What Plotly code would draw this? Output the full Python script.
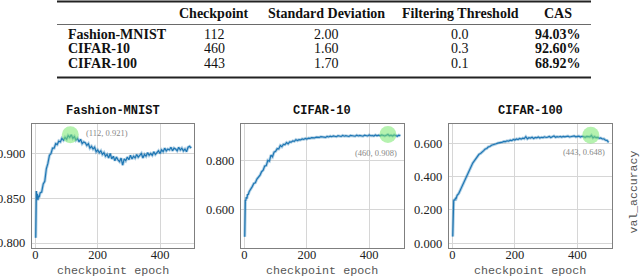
import plotly.graph_objects as go

# ---------------- data ----------------
TABLE_COLUMNS = ["Checkpoint", "Standard Deviation", "Filtering Threshold", "CAS"]
DATASETS = ["Fashion-MNIST", "CIFAR-10", "CIFAR-100"]
CHECKPOINTS = ["112", "460", "443"]
STD_DEVS = ["2.00", "1.60", "1.70"]
THRESHOLDS = ["0.0", "0.3", "0.1"]
CAS = ["94.03%", "92.60%", "68.92%"]

BEST_EPOCH = [112, 460, 443]
BEST_ACC = [0.921, 0.908, 0.648]

EPOCHS = [1, 2, 3, 4, 6, 8, 10, 12, 15, 20, 25, 30, 35, 40, 45, 50, 55, 60, 65, 70, 75,
          80, 85, 90, 95, 100, 105, 110, 115, 120, 125, 130, 135, 140, 145, 150, 155,
          160, 165, 170, 175, 180, 185, 190, 195, 200, 205, 210, 215, 220, 225, 230,
          235, 240, 245, 250, 255, 260, 265, 270, 275, 280, 285, 290, 295, 300, 305,
          310, 315, 320, 325, 330, 335, 340, 345, 350, 355, 360, 365, 370, 375, 380,
          385, 390, 395, 400, 405, 410, 415, 420, 425, 430, 435, 440, 445, 450, 455,
          460, 465, 470, 475, 480, 485, 490, 495, 500]

FMNIST_ACC = [0.806, 0.846, 0.858, 0.849, 0.855, 0.848, 0.853, 0.851, 0.856, 0.857, 0.866,
              0.869, 0.883, 0.889, 0.898, 0.900, 0.906, 0.906, 0.911, 0.910, 0.914, 0.913,
              0.917, 0.915, 0.918, 0.916, 0.920, 0.918, 0.921,
              0.917, 0.919, 0.915, 0.917, 0.913, 0.916, 0.911, 0.913, 0.912, 0.909,
              0.911, 0.906, 0.908, 0.905, 0.907, 0.902, 0.904, 0.901, 0.903, 0.899,
              0.901, 0.897, 0.899, 0.895, 0.900, 0.894, 0.897, 0.892, 0.896, 0.893,
              0.891, 0.895, 0.887, 0.894, 0.892, 0.896, 0.893, 0.898, 0.894, 0.897,
              0.895, 0.899, 0.896, 0.898, 0.900, 0.895, 0.899, 0.897, 0.901, 0.898,
              0.900, 0.898, 0.902, 0.899, 0.901, 0.903, 0.900, 0.904, 0.902, 0.906,
              0.903, 0.905, 0.904, 0.907, 0.903, 0.906, 0.905, 0.903, 0.907, 0.904,
              0.906, 0.903, 0.905, 0.902, 0.907, 0.908, 0.906]

CIFAR10_ACC = [0.490, 0.600, 0.640, 0.636, 0.652, 0.646, 0.664, 0.661, 0.674, 0.688, 0.695,
               0.708, 0.711, 0.726, 0.733, 0.742, 0.756, 0.762, 0.779, 0.781, 0.802, 0.799,
               0.824, 0.817, 0.836, 0.839, 0.850, 0.849, 0.863, 0.858, 0.868, 0.867, 0.875,
               0.870, 0.878, 0.877, 0.882, 0.880, 0.887, 0.883, 0.887, 0.886, 0.890, 0.888,
               0.892,
               0.889, 0.893, 0.892, 0.895, 0.893, 0.894, 0.897, 0.895, 0.896, 0.899,
               0.897, 0.898, 0.896, 0.900, 0.898, 0.901, 0.899, 0.902, 0.900, 0.899,
               0.903, 0.901, 0.900, 0.904, 0.901, 0.903, 0.902, 0.900, 0.904, 0.902,
               0.903, 0.901, 0.905, 0.902, 0.904, 0.903, 0.901, 0.905, 0.903, 0.902,
               0.906, 0.903, 0.904, 0.902, 0.906, 0.903, 0.905, 0.903, 0.906, 0.904,
               0.902, 0.905, 0.908, 0.903, 0.905, 0.902, 0.906, 0.904, 0.901, 0.905, 0.903]

CIFAR100_ACC = [0.040, 0.150, 0.240, 0.255, 0.263, 0.257, 0.273, 0.269, 0.287, 0.298, 0.318,
                0.338, 0.362, 0.378, 0.404, 0.421, 0.446, 0.461, 0.481, 0.494, 0.510, 0.519,
                0.534, 0.539, 0.551, 0.556, 0.566, 0.569, 0.579, 0.581, 0.588, 0.590, 0.594,
                0.597, 0.601, 0.602, 0.606, 0.607, 0.611, 0.610, 0.615, 0.613, 0.619, 0.616,
                0.623,
                0.620, 0.626, 0.623, 0.629, 0.625, 0.631, 0.628, 0.640, 0.627, 0.634,
                0.631, 0.636, 0.629, 0.635, 0.633, 0.638, 0.632, 0.636, 0.634, 0.639,
                0.635, 0.637, 0.641, 0.635, 0.638, 0.644, 0.636, 0.640, 0.638, 0.641,
                0.637, 0.642, 0.639, 0.640, 0.643, 0.638, 0.641, 0.640, 0.644, 0.639,
                0.641, 0.643, 0.638, 0.642, 0.640, 0.636, 0.641, 0.639, 0.639, 0.648,
                0.633, 0.640, 0.634, 0.636, 0.630, 0.632, 0.626, 0.627, 0.619, 0.618, 0.606]

SERIES = [FMNIST_ACC, CIFAR10_ACC, CIFAR100_ACC]
Y_TICKS = [[0.80, 0.85, 0.90], [0.6, 0.8], [0.0, 0.2, 0.4, 0.6]]
Y_RANGES = [[0.795, 0.933], [0.446, 0.951], [-0.026, 0.716]]
X_TICKS = [0, 200, 400]
X_RANGE = [-12, 510]

# ---------------- layout geometry ----------------
W, H = 640, 278
X_DOMAINS = [[31.7 / W, 194.3 / W], [240.7 / W, 403.5 / W], [448.7 / W, 611.7 / W]]
Y_DOMAIN = [1 - 247.5 / H, 1 - 124.0 / H]

BLUE = "#1f77b4"
SERIF = "Liberation Serif, Times New Roman, serif"
MONO = "Liberation Mono, Courier New, monospace"

fig = go.Figure()
layout = dict(width=W, height=H, margin=dict(l=0, r=0, t=0, b=0, autoexpand=False),
              paper_bgcolor="white", plot_bgcolor="white", showlegend=False)

for i in range(3):
    xa = "x" if i == 0 else f"x{i+1}"
    ya = "y" if i == 0 else f"y{i+1}"
    fig.add_trace(go.Scatter(x=EPOCHS, y=SERIES[i], mode="lines", xaxis=xa, yaxis=ya,
                             line=dict(color="rgba(31,119,180,0.35)", width=3),
                             hoverinfo="skip"))
    fig.add_trace(go.Scatter(x=EPOCHS, y=SERIES[i], mode="lines", xaxis=xa, yaxis=ya,
                             line=dict(color=BLUE, width=1.2), hoverinfo="skip"))
    fig.add_trace(go.Scatter(x=[BEST_EPOCH[i]], y=[BEST_ACC[i]], mode="markers",
                             xaxis=xa, yaxis=ya,
                             marker=dict(size=17, color="rgba(120,232,110,0.55)",
                                         line=dict(width=0))))
    axcommon = dict(showline=True, mirror=True, linecolor="#7f7f7f", linewidth=1,
                    showgrid=True, gridcolor="#d6d6d6", gridwidth=0.8, zeroline=False,
                    ticks="", automargin=False,
                    tickfont=dict(family=SERIF, size=12.5, color="#222"))
    xkey = "xaxis" if i == 0 else f"xaxis{i+1}"
    ykey = "yaxis" if i == 0 else f"yaxis{i+1}"
    layout[xkey] = dict(domain=X_DOMAINS[i], anchor=ya, range=X_RANGE,
                        tickvals=X_TICKS, ticktext=[str(v) for v in X_TICKS],
                        ticklabelstandoff=-5, **axcommon)
    layout[ykey] = dict(domain=Y_DOMAIN, anchor=xa, range=Y_RANGES[i],
                        tickvals=Y_TICKS[i], tickformat=".3f",
                        ticklabelstandoff=3, **axcommon)

fig.update_layout(**layout)

annotations = []
# subplot titles and axis labels
for i in range(3):
    xc = (X_DOMAINS[i][0] + X_DOMAINS[i][1]) / 2
    annotations.append(dict(text="<b>" + DATASETS[i] + "</b>", x=xc, y=1 - 111.5 / H,
                            xref="paper", yref="paper", showarrow=False,
                            xanchor="center", yanchor="middle",
                            font=dict(family=MONO, size=12, color="#111")))
    annotations.append(dict(text="checkpoint epoch", x=xc, y=1 - 271 / H,
                            xref="paper", yref="paper", showarrow=False,
                            xanchor="center", yanchor="middle",
                            font=dict(family=MONO, size=11.7, color="#555")))

annotations.append(dict(text="val_accuracy", x=633 / W, y=1 - 192.5 / H,
                        xref="paper", yref="paper", showarrow=False, textangle=-90,
                        xanchor="center", yanchor="middle",
                        font=dict(family=MONO, size=11.5, color="#555")))

# best-point labels
label_cfg = [dict(xanchor="left", xshift=14, yshift=2),
             dict(xanchor="right", xshift=11, yshift=-18),
             dict(xanchor="right", xshift=16, yshift=-17)]
for i in range(3):
    xa = "x" if i == 0 else f"x{i+1}"
    ya = "y" if i == 0 else f"y{i+1}"
    annotations.append(dict(text=f"({BEST_EPOCH[i]}, {BEST_ACC[i]:.3f})",
                            x=BEST_EPOCH[i], y=BEST_ACC[i], xref=xa, yref=ya,
                            showarrow=False, yanchor="middle",
                            font=dict(family=SERIF, size=8.5, color="#888"),
                            **label_cfg[i]))

# table
COL_X = [214, 326, 460, 558]
ROW_Y = [34, 48.8, 63.5]
HEADER_Y = 13
for j, name in enumerate(TABLE_COLUMNS):
    annotations.append(dict(text="<b>" + name + "</b>", x=COL_X[j] / W, y=1 - HEADER_Y / H,
                            xref="paper", yref="paper", showarrow=False,
                            xanchor="center", yanchor="middle",
                            font=dict(family=SERIF, size=14, color="#111")))
for r in range(3):
    y = 1 - ROW_Y[r] / H
    annotations.append(dict(text="<b>" + DATASETS[r] + "</b>", x=66 / W, y=y,
                            xref="paper", yref="paper", showarrow=False,
                            xanchor="left", yanchor="middle",
                            font=dict(family=SERIF, size=14, color="#111")))
    vals = [CHECKPOINTS[r], STD_DEVS[r], THRESHOLDS[r], "<b>" + CAS[r] + "</b>"]
    for j, v in enumerate(vals):
        annotations.append(dict(text=v, x=COL_X[j] / W, y=y,
                                xref="paper", yref="paper", showarrow=False,
                                xanchor="center", yanchor="middle",
                                font=dict(family=SERIF, size=14, color="#111")))

shapes = [
    dict(type="line", xref="paper", yref="paper", x0=57 / W, x1=591 / W,
         y0=1 - 1.5 / H, y1=1 - 1.5 / H, line=dict(color="#222", width=2)),
    dict(type="line", xref="paper", yref="paper", x0=57 / W, x1=591 / W,
         y0=1 - 24.5 / H, y1=1 - 24.5 / H, line=dict(color="#444", width=0.8)),
    dict(type="line", xref="paper", yref="paper", x0=57 / W, x1=591 / W,
         y0=1 - 77.5 / H, y1=1 - 77.5 / H, line=dict(color="#222", width=2)),
]

fig.update_layout(annotations=annotations, shapes=shapes)
fig.write_html("out.html", config={"displayModeBar": False},
               post_script="document.body.style.margin='0';document.body.style.padding='0';")
